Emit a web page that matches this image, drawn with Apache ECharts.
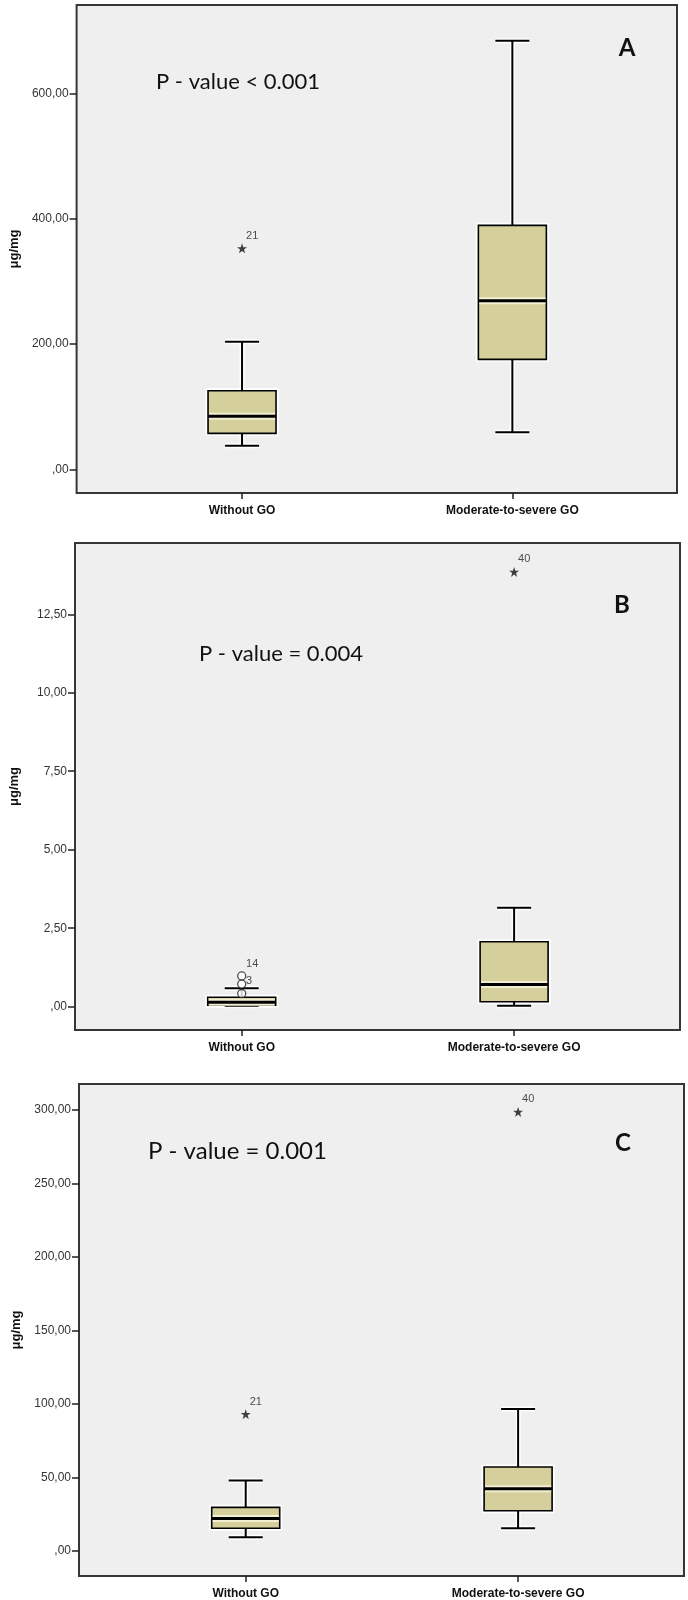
<!DOCTYPE html>
<html>
<head>
<meta charset="utf-8">
<script src="https://cdn.jsdelivr.net/npm/echarts@6/dist/echarts.min.js"></script>
<style>
html,body{margin:0;padding:0;background:#ffffff;}
#chart{width:688px;height:1600px;}
</style>
</head>
<body>
<div id="chart"></div>
<script>
// ---------- data ----------
const categories = ['Without GO', 'Moderate-to-severe GO'];
const catPositions = [0, 1];

// [low whisker, Q1, median, Q3, high whisker]
const boxA = [[37.7, 57.4, 84.6, 125.4, 203.6], [59, 175.5, 269, 389.3, 684]];
const boxB = [[0.03, 0.05, 0.14, 0.30, 0.59], [0.03, 0.16, 0.71, 2.07, 3.15]];
const boxC = [[9.3, 15.4, 22, 29.6, 47.9], [15.4, 27.3, 42.2, 57.1, 96.5]];

// [category index, value, case label, marker]
const outliersA = [[0, 352.6, '21', 'star']];
const outliersB = [[0, 0.98, '14', 'circle'], [0, 0.72, '', 'circle'], [0, 0.42, '3', 'circle'], [1, 13.85, '40', 'star']];
const outliersC = [[0, 93, '21', 'star'], [1, 298.6, '40', 'star']];

const yTicksA = [0, 200, 400, 600];
const yTicksB = [0, 2.5, 5, 7.5, 10, 12.5];
const yTicksC = [0, 50, 100, 150, 200, 250, 300];

const pValueTexts = ['P - value < 0.001', 'P - value = 0.004', 'P - value = 0.001'];
const panelLetters = ['A', 'B', 'C'];
const yAxisName = 'μg/mg';

// ---------- layout / style ----------
const panels = [
  {grid: {left: 75, top: 5, width: 602, height: 488}, yMin: -37.8, yMax: 740.9, box: boxA, out: outliersA, ticks: yTicksA,
   pText: {x: 156, y: 85, size: 22}, letter: {x: 627, y: 48}},
  {grid: {left: 74, top: 543, width: 606, height: 487}, yMin: -0.742, yMax: 14.77, box: boxB, out: outliersB, ticks: yTicksB,
   pText: {x: 199, y: 657, size: 22}, letter: {x: 622, y: 605}},
  {grid: {left: 79, top: 1084, width: 605, height: 492}, yMin: -17.1, yMax: 317.6, box: boxC, out: outliersC, ticks: yTicksC,
   pText: {x: 148, y: 1154, size: 24}, letter: {x: 623, y: 1143}}
];
const xMin = -0.612, xMax = 1.609;
const boxFill = '#d5d09b';
const BOX_W = 68, CAP_W = 34;

const starPath = 'path://M50,0 L61.8,35.1 L98.1,35.1 L68.8,56.8 L79.4,91.9 L50,70.3 L20.6,91.9 L31.2,56.8 L1.9,35.1 L38.2,35.1 Z';

function fmtTick(v) {
  if (v === 0) return ',00';
  return v.toFixed(2).replace('.', ',');
}

function renderBox(params, api) {
  const x = api.value(0);
  const pLow = api.coord([x, api.value(1)]);
  const pQ1 = api.coord([x, api.value(2)]);
  const pMed = api.coord([x, api.value(3)]);
  const pQ3 = api.coord([x, api.value(4)]);
  const pHigh = api.coord([x, api.value(5)]);
  const cx = pLow[0];
  const hb = BOX_W / 2, hc = CAP_W / 2;
  const halo = {stroke: '#ffffff', lineWidth: 5};
  const ink = {stroke: '#000000', lineWidth: 2};
  const children = [];
  const lines = [
    [cx, pLow[1], cx, pQ1[1]],
    [cx, pQ3[1], cx, pHigh[1]],
    [cx - hc, pLow[1], cx + hc, pLow[1]],
    [cx - hc, pHigh[1], cx + hc, pHigh[1]]
  ];
  const rectShape = {x: cx - hb, y: pQ3[1], width: BOX_W, height: pQ1[1] - pQ3[1]};
  lines.forEach(function (l) {
    children.push({type: 'line', shape: {x1: l[0], y1: l[1], x2: l[2], y2: l[3]}, style: halo});
  });
  children.push({type: 'rect', shape: rectShape, style: {fill: 'none', stroke: '#ffffff', lineWidth: 5}});
  lines.forEach(function (l) {
    children.push({type: 'line', shape: {x1: l[0], y1: l[1], x2: l[2], y2: l[3]}, style: ink});
  });
  children.push({type: 'rect', shape: rectShape, style: {fill: boxFill, stroke: '#000000', lineWidth: 1.6}});
  children.push({type: 'line', shape: {x1: cx - hb + 1, y1: pMed[1], x2: cx + hb - 1, y2: pMed[1]},
    style: {stroke: '#f1eed2', lineWidth: 7}});
  children.push({type: 'line', shape: {x1: cx - hb, y1: pMed[1], x2: cx + hb, y2: pMed[1]},
    style: {stroke: '#000000', lineWidth: 3}});
  return {type: 'group', children: children};
}

const option = {
  animation: false,
  backgroundColor: '#ffffff',
  grid: [], xAxis: [], yAxis: [], series: [], graphic: []
};

panels.forEach(function (p, i) {
  option.grid.push(Object.assign({show: true, backgroundColor: '#efefef', borderColor: '#363636', borderWidth: 2}, p.grid));
  option.xAxis.push({
    type: 'value', gridIndex: i, min: xMin, max: xMax, position: 'bottom',
    axisLine: {show: false, onZero: false}, splitLine: {show: false},
    axisTick: {show: true, customValues: catPositions, length: 6, lineStyle: {color: '#222', width: 1.5}},
    axisLabel: {show: true, customValues: catPositions, margin: 12,
      formatter: function (v) { return categories[Math.round(v)] || ''; },
      fontFamily: 'Liberation Sans, Arial, sans-serif', fontWeight: 'bold', fontSize: 12, color: '#111'}
  });
  option.yAxis.push({
    type: 'value', gridIndex: i, min: p.yMin, max: p.yMax, position: 'left',
    axisLine: {show: false, onZero: false}, splitLine: {show: false},
    axisTick: {show: true, customValues: p.ticks, length: 7, lineStyle: {color: '#222', width: 1.5}},
    axisLabel: {show: true, customValues: p.ticks, margin: 8, formatter: fmtTick,
      fontFamily: 'Liberation Sans, Arial, sans-serif', fontSize: 12, color: '#333'},
    name: yAxisName, nameLocation: 'middle', nameGap: 54,
    nameTextStyle: {fontFamily: 'Liberation Sans, Arial, sans-serif', fontWeight: 'bold', fontSize: 13, color: '#111'}
  });
  option.series.push({
    type: 'custom', xAxisIndex: i, yAxisIndex: i,
    renderItem: renderBox,
    dimensions: ['x', 'low', 'q1', 'med', 'q3', 'high'],
    encode: {x: 0, y: [1, 2, 3, 4, 5]},
    data: p.box.map(function (b, k) { return [catPositions[k]].concat(b); }),
    z: 2
  });
  option.series.push({
    type: 'scatter', xAxisIndex: i, yAxisIndex: i, z: 3,
    data: p.out.map(function (o) {
      const isStar = o[3] === 'star';
      return {
        value: [catPositions[o[0]], o[1]],
        symbol: isStar ? starPath : 'circle',
        symbolSize: isStar ? 10 : 8,
        itemStyle: isStar ? {color: '#111'} : {color: '#ffffff', borderColor: '#222', borderWidth: 1.3},
        label: {show: o[2] !== '', formatter: o[2]}
      };
    }),
    label: {position: [9, -13], fontFamily: 'Liberation Sans, Arial, sans-serif', fontSize: 11, color: '#222'}
  });
  option.graphic.push({
    type: 'text', left: p.pText.x, top: p.pText.y - p.pText.size * 0.62,
    style: {text: pValueTexts[i], font: p.pText.size + 'px Lato, "Open Sans", sans-serif', fill: '#111'}
  });
  option.graphic.push({
    type: 'text', x: p.letter.x, y: p.letter.y,
    style: {text: panelLetters[i], font: 'bold 24px Lato, "Open Sans", sans-serif', fill: '#111', align: 'center', verticalAlign: 'middle'}
  });
});

const chart = echarts.init(document.getElementById('chart'), null, {renderer: 'canvas'});
chart.setOption(option);
</script>
</body>
</html>
